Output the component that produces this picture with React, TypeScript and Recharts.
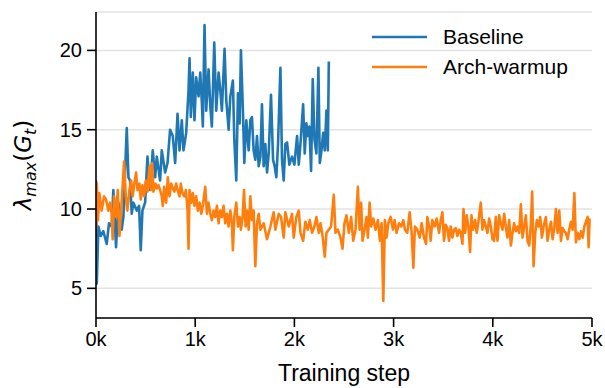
import React from 'react';
import { LineChart, Line, XAxis, YAxis, CartesianGrid, Legend, Label } from 'recharts';

// [training step, lambda_max]
const baselineSeries: [number, number][] = [
  [0, 11.8], [8, 5.3], [24, 8.9], [47, 8.3], [74, 8.6], [108, 7.8], [131, 9.1], [158, 8.9], [175, 11.2],
  [202, 7.6], [226, 10.4], [259, 8.7], [276, 9.5], [310, 15.1], [327, 12.0], [343, 11.8], [360, 9.7],
  [377, 10.4], [411, 9.9], [434, 10.2], [451, 7.4], [468, 9.9], [495, 10.4], [519, 13.3], [545, 11.2],
  [572, 13.7], [596, 12.0], [613, 13.3], [646, 11.8], [663, 13.7], [697, 12.3], [721, 12.9], [747, 15.0],
  [774, 14.6], [798, 12.9], [822, 16.0], [842, 13.7], [865, 15.6], [882, 13.7], [909, 14.8], [933, 17.5],
  [943, 19.5], [956, 15.8], [976, 18.6], [993, 15.6], [1010, 18.3], [1034, 17.1], [1051, 18.6], [1067, 16.7],
  [1077, 15.2], [1094, 21.6], [1111, 16.2], [1135, 18.8], [1152, 16.5], [1168, 15.2], [1192, 20.5],
  [1212, 16.2], [1236, 18.6], [1253, 17.5], [1269, 16.2], [1296, 20.1], [1313, 16.9], [1337, 15.0],
  [1354, 17.1], [1380, 18.1], [1394, 14.4], [1414, 11.8], [1431, 17.3], [1448, 15.4], [1461, 20.0],
  [1481, 16.2], [1495, 12.9], [1515, 15.6], [1539, 13.7], [1556, 15.6], [1572, 15.8], [1589, 13.7],
  [1606, 13.1], [1623, 14.6], [1640, 12.7], [1657, 13.3], [1673, 16.6], [1690, 12.7], [1707, 14.1],
  [1724, 12.3], [1741, 13.5], [1764, 17.2], [1785, 13.1], [1801, 12.7], [1818, 12.0], [1835, 14.1],
  [1859, 18.9], [1875, 13.1], [1892, 11.8], [1909, 14.1], [1926, 14.2], [1949, 12.8], [1976, 13.3],
  [2000, 12.8], [2027, 14.6], [2044, 12.8], [2061, 14.1], [2088, 16.6], [2104, 13.5], [2121, 15.4],
  [2135, 14.6], [2151, 15.2], [2168, 12.4], [2185, 18.2], [2202, 14.4], [2222, 13.5], [2242, 18.9],
  [2256, 12.9], [2273, 13.7], [2290, 14.8], [2306, 13.7], [2323, 16.2], [2337, 13.7], [2347, 19.3],
];

const warmupSeries: [number, number][] = [
  [0, 8.7], [8, 11.6], [20, 9.3], [34, 11.0], [57, 9.9], [81, 10.8], [101, 10.6], [125, 9.9], [141, 10.4],
  [158, 9.7], [168, 8.1], [182, 10.8], [202, 9.5], [219, 11.2], [236, 8.3], [249, 9.5], [266, 11.2],
  [283, 13.0], [300, 10.8], [316, 9.9], [337, 11.2], [354, 11.8], [370, 10.8], [387, 11.6], [404, 12.3],
  [418, 11.2], [438, 11.6], [451, 10.6], [468, 11.5], [485, 10.8], [502, 11.8], [519, 11.1], [539, 12.7],
  [552, 11.2], [566, 12.9], [579, 11.1], [599, 11.6], [613, 11.3], [630, 11.5], [646, 11.2], [663, 10.8],
  [673, 10.2], [687, 11.4], [707, 10.4], [724, 12.0], [741, 10.8], [758, 11.6], [774, 11.3], [791, 11.1],
  [808, 11.6], [822, 11.2], [842, 10.8], [855, 11.6], [872, 11.0], [889, 10.8], [906, 11.2], [923, 9.9],
  [933, 7.5], [943, 11.2], [960, 10.4], [976, 11.0], [993, 10.2], [1010, 10.8], [1027, 9.9], [1044, 10.4],
  [1061, 9.7], [1077, 10.2], [1101, 11.4], [1118, 9.7], [1135, 10.4], [1152, 9.7], [1168, 9.3], [1185, 9.9],
  [1202, 9.5], [1219, 10.2], [1236, 9.1], [1253, 9.9], [1269, 9.5], [1286, 10.2], [1303, 9.1], [1320, 9.7],
  [1337, 8.9], [1354, 9.9], [1370, 9.1], [1380, 7.4], [1394, 9.5], [1414, 10.4], [1431, 8.9], [1448, 9.5],
  [1461, 8.7], [1478, 9.5], [1492, 11.2], [1508, 8.9], [1522, 9.9], [1539, 8.7], [1556, 10.8], [1572, 9.3],
  [1589, 9.9], [1606, 6.4], [1623, 9.1], [1640, 9.7], [1657, 8.7], [1690, 9.1], [1724, 8.1], [1758, 8.9],
  [1791, 9.8], [1808, 8.7], [1842, 9.7], [1865, 9.5], [1892, 8.2], [1909, 9.8], [1943, 8.9], [1976, 9.7],
  [1993, 8.2], [2020, 9.5], [2044, 9.9], [2061, 8.5], [2088, 8.0], [2111, 9.2], [2135, 8.7], [2155, 9.3],
  [2178, 8.5], [2202, 8.9], [2222, 9.5], [2246, 8.5], [2263, 9.1], [2286, 8.2], [2306, 7.0], [2323, 8.5],
  [2347, 8.7], [2370, 8.9], [2397, 10.9], [2414, 8.5], [2438, 8.7], [2465, 8.2], [2485, 7.5], [2505, 9.1],
  [2525, 9.6], [2549, 8.5], [2572, 9.5], [2593, 8.0], [2616, 8.7], [2640, 11.4], [2657, 8.7], [2673, 10.4],
  [2687, 8.0], [2707, 8.7], [2727, 9.5], [2741, 8.2], [2758, 10.4], [2774, 8.9], [2795, 9.4], [2818, 8.7],
  [2842, 9.3], [2862, 8.0], [2879, 9.1], [2896, 4.2], [2912, 9.3], [2929, 8.2], [2946, 9.1], [2970, 9.5],
  [2993, 8.7], [3010, 9.3], [3030, 8.5], [3054, 9.1], [3077, 8.9], [3098, 9.3], [3114, 8.7], [3138, 8.5],
  [3162, 9.8], [3182, 8.5], [3199, 6.3], [3215, 8.9], [3239, 8.7], [3263, 8.2], [3283, 9.1], [3306, 8.2],
  [3327, 7.8], [3340, 9.5], [3364, 8.7], [3374, 8.0], [3390, 9.3], [3414, 8.9], [3434, 9.4], [3458, 8.5],
  [3475, 9.3], [3492, 9.8], [3508, 8.0], [3525, 9.0], [3542, 8.8], [3559, 8.0], [3576, 8.9], [3593, 8.2],
  [3610, 8.7], [3626, 8.8], [3643, 8.3], [3660, 8.7], [3677, 8.5], [3694, 7.8], [3704, 10.0], [3721, 8.5],
  [3737, 9.6], [3754, 8.9], [3771, 7.3], [3785, 9.6], [3801, 8.7], [3822, 9.3], [3838, 8.5], [3855, 9.2],
  [3879, 10.4], [3896, 8.7], [3912, 9.3], [3929, 8.9], [3946, 8.5], [3963, 9.4], [3980, 8.9], [3997, 8.1],
  [4013, 8.0], [4030, 9.5], [4047, 8.0], [4064, 9.6], [4081, 9.1], [4098, 8.7], [4115, 9.7], [4131, 8.9],
  [4148, 8.2], [4165, 9.3], [4182, 7.7], [4199, 8.5], [4215, 9.1], [4232, 8.6], [4249, 8.9], [4266, 8.5],
  [4283, 10.3], [4300, 8.2], [4316, 8.9], [4333, 9.6], [4350, 8.0], [4367, 7.7], [4384, 9.1], [4397, 11.1],
  [4411, 6.4], [4428, 8.5], [4444, 9.3], [4461, 8.9], [4478, 9.5], [4495, 8.2], [4512, 8.9], [4535, 9.5],
  [4552, 8.0], [4569, 8.7], [4586, 9.2], [4603, 8.1], [4620, 8.8], [4636, 10.0], [4653, 8.5], [4670, 9.9],
  [4687, 8.0], [4704, 8.8], [4721, 8.6], [4737, 8.5], [4754, 8.1], [4771, 8.7], [4788, 9.2], [4805, 8.7],
  [4822, 11.0], [4838, 7.9], [4855, 8.5], [4872, 8.1], [4889, 8.6], [4906, 8.2], [4923, 8.9], [4939, 9.2],
  [4956, 9.5], [4966, 7.6], [4976, 9.4],
];

const seriesNames = ['Baseline', 'Arch-warmup'];
const seriesColors = ['#1f77b4', '#ff7f0e'];
const xTicks = [0, 1000, 2000, 3000, 4000, 5000];
const yTicks = [5, 10, 15, 20];
const xLabel = 'Training step';

const baselineData = baselineSeries.map(([step, v]) => ({ step, v }));
const warmupData = warmupSeries.map(([step, v]) => ({ step, v }));

const SANS = '"Liberation Sans", Arial, Helvetica, sans-serif';
const MATH = '"DejaVu Sans", sans-serif';

const YLabel = () => (
  <text
    x={31}
    y={165}
    transform="rotate(-90, 31, 165)"
    textAnchor="middle"
    fontFamily={MATH}
    fontSize={23}
    fill="#000"
  >
    <tspan fontStyle="italic">λ</tspan>
    <tspan fontStyle="italic" fontSize={16} dy={5}>max</tspan>
    <tspan dy={-5}>(</tspan>
    <tspan fontStyle="italic">G</tspan>
    <tspan fontStyle="italic" fontSize={16} dy={5}>t</tspan>
    <tspan dy={-5}>)</tspan>
  </text>
);

const XLabel = () => (
  <text x={344} y={381} textAnchor="middle" fontFamily={SANS} fontSize={23} fill="#000">
    {xLabel}
  </text>
);

const renderLegend = () => (
  <div>
    {seriesNames.map((name, i) => (
      <div key={name} style={{ display: 'flex', alignItems: 'center', height: 30 }}>
        <svg width={55} height={6} style={{ display: 'block' }}>
          <line x1={0} y1={3} x2={55} y2={3} stroke={seriesColors[i]} strokeWidth={2.6} />
        </svg>
        <span style={{ marginLeft: 16, fontFamily: SANS, fontSize: 21, color: '#000', lineHeight: '30px' }}>
          {name}
        </span>
      </div>
    ))}
  </div>
);

export default function App() {
  return (
    <div style={{ position: 'absolute', left: 0, top: 0, background: '#fff' }}>
      <LineChart width={605} height={388} margin={{ top: 12, right: 13, left: 10, bottom: 0 }}>
        <CartesianGrid vertical={false} stroke="#e3e3e3" strokeWidth={1.5} />
        <XAxis
          type="number"
          dataKey="step"
          domain={[0, 5000]}
          ticks={xTicks}
          tickFormatter={(v: number) => `${v / 1000}k`}
          height={70}
          tickSize={9}
          tickMargin={5}
          stroke="#000"
          strokeWidth={1.6}
          tick={{ fill: '#000', fontFamily: SANS, fontSize: 20 }}
          allowDataOverflow
        >
          <Label content={XLabel} />
        </XAxis>
        <YAxis
          type="number"
          domain={[3.13, 22.42]}
          ticks={yTicks}
          width={86}
          tickSize={9}
          tickMargin={5}
          stroke="#000"
          strokeWidth={1.6}
          tick={{ fill: '#000', fontFamily: SANS, fontSize: 20 }}
          allowDataOverflow
        >
          <Label content={YLabel} />
        </YAxis>
        <Legend
          layout="vertical"
          align="center"
          verticalAlign="middle"
          content={renderLegend}
          wrapperStyle={{ position: 'absolute', left: 372, top: 22, width: 'auto', height: 'auto' }}
        />
        <Line
          data={baselineData}
          dataKey="v"
          name={seriesNames[0]}
          stroke={seriesColors[0]}
          strokeWidth={2.6}
          dot={false}
          strokeLinejoin="round"
          isAnimationActive={false}
        />
        <Line
          data={warmupData}
          dataKey="v"
          name={seriesNames[1]}
          stroke={seriesColors[1]}
          strokeWidth={2.6}
          dot={false}
          strokeLinejoin="round"
          isAnimationActive={false}
        />
      </LineChart>
    </div>
  );
}
